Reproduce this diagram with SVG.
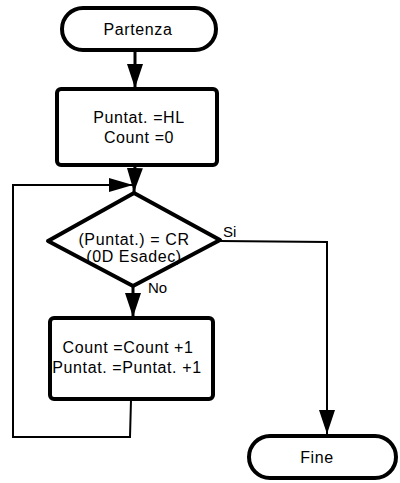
<svg xmlns="http://www.w3.org/2000/svg" width="400" height="483" viewBox="0 0 400 483">
<defs>
<style>
.shape{fill:#fff;stroke:#000;stroke-width:4;stroke-linejoin:round}
.conn{fill:none;stroke:#000;stroke-width:2}
.t{font-family:"Liberation Sans",Arial,sans-serif;font-size:16px;letter-spacing:0.6px;fill:#000;text-anchor:middle}
.lbl{font-family:"Liberation Sans",Arial,sans-serif;font-size:15px;fill:#000}
</style>
<marker id="ah" markerWidth="24" markerHeight="14" refX="24" refY="7" orient="auto" markerUnits="userSpaceOnUse" viewBox="0 0 24 14">
<path d="M0,0 L24,7 L0,14 Z" fill="#000"/>
</marker>
<marker id="ahd" markerWidth="24" markerHeight="16" refX="24" refY="8" orient="auto" markerUnits="userSpaceOnUse" viewBox="0 0 24 16">
<path d="M0,0 L24,8 L0,16 Z" fill="#000"/>
</marker>
</defs>
<g id="connectors">
<line class="conn" x1="135" y1="50" x2="135" y2="88" marker-end="url(#ahd)" style="stroke-width:3"/>
<line class="conn" x1="135" y1="165" x2="134" y2="192" marker-end="url(#ahd)" style="stroke-width:3"/>
<polyline class="conn" points="131,400 130,437 13,437 13,185 133,185" marker-end="url(#ah)"/>
<line class="conn" x1="133" y1="285" x2="133" y2="317" marker-end="url(#ahd)" style="stroke-width:3"/>
<polyline class="conn" points="220,241 327,242 327,434" marker-end="url(#ahd)"/>
</g>
<g id="start">
<rect class="shape" x="62" y="8" width="154" height="42" rx="21"/>
<text class="t" x="138" y="35">Partenza</text>
</g>
<g id="init">
<rect class="shape" x="57" y="89" width="160" height="76" rx="4"/>
<text class="t" x="139" y="123">Puntat. =HL</text>
<text class="t" x="139" y="143">Count =0</text>
</g>
<g id="decision">
<polygon class="shape" points="134,193 220,240 133,286 48,241"/>
<text class="t" x="134" y="245">(Puntat.)  = CR</text>
<text class="t" x="134" y="262">(0D  Esadec)</text>
<text class="lbl" x="223" y="237">Si</text>
<text class="lbl" x="148" y="293">No</text>
</g>
<g id="increment">
<rect class="shape" x="50" y="318" width="163" height="81" rx="4"/>
<text class="t" x="128" y="353">Count =Count +1</text>
<text class="t" x="127" y="373">Puntat. =Puntat. +1</text>
</g>
<g id="end">
<rect class="shape" x="249" y="436" width="147" height="42" rx="21"/>
<text class="t" x="317" y="463">Fine</text>
</g>
</svg>
